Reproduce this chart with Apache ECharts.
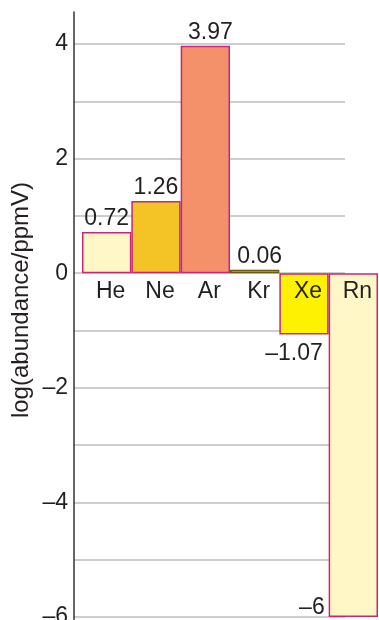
<!DOCTYPE html>
<html>
<head>
<meta charset="utf-8">
<script src="https://cdn.jsdelivr.net/npm/echarts@6/dist/echarts.min.js"></script>
<style>
  html, body { margin: 0; padding: 0; background: #fff; }
  #chart { width: 379px; height: 620px; }
</style>
</head>
<body>
<div id="chart"></div>
<script>
// noble gases, log of abundance in ppmV
var elements = ['He', 'Ne', 'Ar', 'Kr', 'Xe', 'Rn'];
var logAbundance = [0.72, 1.26, 3.97, 0.06, -1.07, -6];
var yTicks = [-6, -4, -2, 0, 2, 4];

var fills = ['#fff8c6', '#f4c325', '#f4916a', '#f4c325', '#fff200', '#fff8c6'];
var borders = ['#c8267a', '#c8267a', '#c8267a', '#6b5a10', '#c8267a', '#c8267a'];

var font = '"Liberation Sans", Arial, Helvetica, sans-serif';
var ink = '#231f20';

function fmt(v) {
    return v < 0 ? '\u2013' + Math.abs(v) : String(v);
}

function labelFor(i, v) {
    var base = {
        show: true,
        color: ink,
        fontFamily: font,
        fontSize: 23,
        formatter: fmt(v)
    };
    if (elements[i] === 'Rn') {
        base.position = ['0%', '100%'];
        base.align = 'right';
        base.verticalAlign = 'bottom';
        base.offset = [-4, 2];
    } else if (v < 0) {
        base.position = 'bottom';
        base.distance = 8;
        base.offset = [-10, 0];
    } else {
        base.position = 'top';
        base.distance = 2;
        base.offset = [i >= 2 ? 5 : 0, 0];
    }
    return base;
}

var chart = echarts.init(document.getElementById('chart'));

var option = {
    animation: false,
    grid: [
        // scale with gridlines and tick labels
        { left: 74, right: 34, top: 44, bottom: 3, outerBoundsMode: 'none' },
        // bars
        { left: 82, right: 1, top: 12, bottom: 0, outerBoundsMode: 'none' }
    ],
    xAxis: [
        { gridIndex: 0, type: 'value', show: false, min: 0, max: 1 },
        {
            gridIndex: 1,
            type: 'category',
            data: elements,
            position: 'top',
            // move the axis from the grid top down to the zero line
            offset: -261,
            z: 10,
            axisLine: { show: false, onZero: false },
            axisTick: { show: false },
            axisLabel: {
                inside: true,
                color: ink,
                fontFamily: font,
                fontSize: 23,
                margin: 7,
                padding: [0, 0, 0, 8]
            }
        }
    ],
    yAxis: [
        {
            gridIndex: 0,
            type: 'value',
            min: -6,
            max: 4,
            interval: 1,
            axisLine: { show: false },
            axisTick: { show: false },
            axisLabel: {
                color: ink,
                fontFamily: font,
                fontSize: 23,
                margin: 6,
                formatter: function(v) {
                    return yTicks.indexOf(v) >= 0 ? fmt(v) : '';
                }
            },
            splitLine: { show: true, lineStyle: { color: '#bdbdbd', width: 1.5 } }
        },
        {
            gridIndex: 1,
            type: 'value',
            min: -6.052,
            max: 4.558,
            offset: 8,
            axisLine: { show: true, onZero: false, lineStyle: { color: '#333', width: 1.5 } },
            axisTick: { show: false },
            axisLabel: { show: false },
            splitLine: { show: false }
        }
    ],
    graphic: [
        {
            type: 'text',
            x: 21,
            y: 300,
            rotation: Math.PI / 2,
            style: {
                text: 'log(abundance/ppmV)',
                fill: ink,
                font: '24px ' + font,
                align: 'center',
                verticalAlign: 'middle'
            }
        }
    ],
    series: [
        {
            type: 'bar',
            xAxisIndex: 1,
            yAxisIndex: 1,
            barCategoryGap: '0%',
            data: logAbundance.map(function(v, i) {
                return {
                    value: v,
                    itemStyle: { color: fills[i], borderColor: borders[i], borderWidth: 1.5 },
                    label: labelFor(i, v)
                };
            })
        }
    ]
};

chart.setOption(option);
</script>
</body>
</html>
